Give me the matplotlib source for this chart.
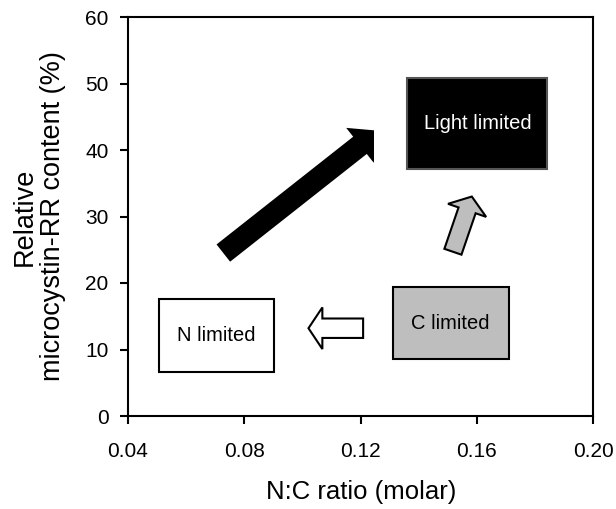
import matplotlib
matplotlib.use('Agg')
import matplotlib.pyplot as plt
from matplotlib.patches import Rectangle, FancyArrowPatch

plt.rcParams['font.family'] = ['Liberation Sans', 'DejaVu Sans']

# axis ticks
x_ticks = [0.04, 0.08, 0.12, 0.16, 0.20]
x_tick_labels = ['0.04', '0.08', '0.12', '0.16', '0.20']
y_ticks = [0, 10, 20, 30, 40, 50, 60]

# limitation boxes (N:C ratio range, microcystin-RR range)
box_labels = ['Light limited', 'N limited', 'C limited']
box_x0 = [0.1361, 0.0508, 0.1311]
box_x1 = [0.1843, 0.0902, 0.1710]
box_y0 = [37.2, 6.6, 8.5]
box_y1 = [50.8, 17.6, 19.4]

# transition arrows: tail -> tip
arrow_tail_x = [0.0728, 0.1518, 0.1209]
arrow_tail_y = [24.5, 24.7, 13.2]
arrow_tip_x = [0.1262, 0.1583, 0.1021]
arrow_tip_y = [42.9, 33.0, 13.2]

box_face = ['black', 'white', '#bebebe']
box_edge = ['#555555', 'black', 'black']
box_text = ['white', 'black', 'black']
arrow_face = ['black', '#bebebe', 'white']
arrow_edge = ['none', 'black', 'black']
# head_length, head_width, tail_width in points
arrow_shape = [(17.0, 32.0, 15.8), (10.5, 29.0, 13.0), (10.0, 30.0, 14.0)]

fig = plt.figure(figsize=(6.16, 5.09), dpi=100)
ax = fig.add_axes([128 / 616, 1 - 416 / 509, 465 / 616, 399 / 509])

ax.set_xlim(0.04, 0.20)
ax.set_ylim(0, 60)
ax.set_xticks(x_ticks)
ax.set_xticklabels(x_tick_labels)
ax.set_yticks(y_ticks)

for s in ax.spines.values():
    s.set_linewidth(1.5)
ax.tick_params(direction='out', length=6, width=1.5, labelsize=15)
ax.tick_params(axis='x', pad=12.5)
ax.tick_params(axis='y', pad=8)

ax.set_xlabel('N:C ratio (molar)', fontsize=18.5)
ax.set_ylabel('Relative\nmicrocystin-RR content (%)', fontsize=19.5, linespacing=1.1)
ax.xaxis.set_label_coords(0.502, -0.16)
ax.yaxis.set_label_coords(-0.133, 0.5)

for i, lab in enumerate(box_labels):
    ax.add_patch(Rectangle((box_x0[i], box_y0[i]), box_x1[i] - box_x0[i], box_y1[i] - box_y0[i],
                           facecolor=box_face[i], edgecolor=box_edge[i], linewidth=1.5, zorder=2))
    ax.text((box_x0[i] + box_x1[i]) / 2, (box_y0[i] + box_y1[i]) / 2, lab,
            ha='center', va='center', fontsize=14.5, color=box_text[i], zorder=3)

for i in range(len(arrow_tip_x)):
    hl, hw, tw = arrow_shape[i]
    arr = FancyArrowPatch((arrow_tail_x[i], arrow_tail_y[i]), (arrow_tip_x[i], arrow_tip_y[i]),
                          arrowstyle=f'simple,head_length={hl},head_width={hw},tail_width={tw}',
                          mutation_scale=1, shrinkA=0, shrinkB=0,
                          facecolor=arrow_face[i], edgecolor=arrow_edge[i],
                          linewidth=1.5, joinstyle='miter', zorder=2)
    ax.add_patch(arr)
    if i == 0:
        # the big arrow's tip is cut flat in the original
        arr.set_clip_path(Rectangle((0.04, 0), 0.1247 - 0.04, 60, transform=ax.transData))

fig.savefig('out.png', dpi=100)
